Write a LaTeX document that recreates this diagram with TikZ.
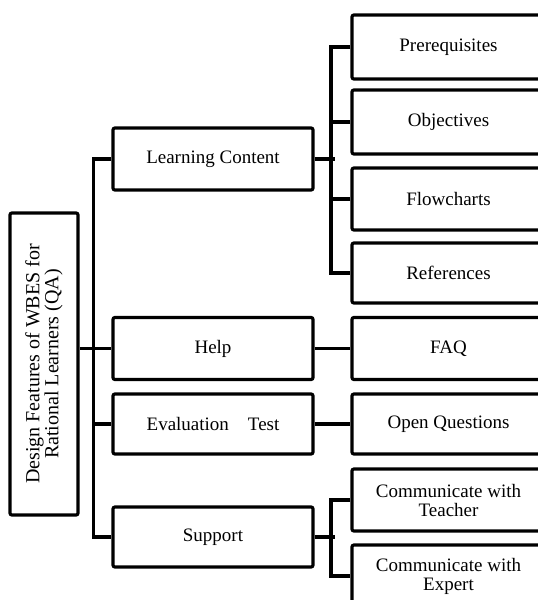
\documentclass[tikz,border=0pt]{standalone}
\usepackage{fontspec}
\setmainfont{Liberation Serif}
\begin{document}
\begin{tikzpicture}[x=1pt,y=-1pt,
  box/.style={draw, line width=3.2pt, rounded corners=2pt, minimum width=200pt,
    minimum height=62pt, inner sep=0pt, align=center,
    font=\fontsize{19}{19}\selectfont},
  leaf/.style={box, minimum width=193pt},
  link/.style={line width=3.2pt}]
\clip (0,0) rectangle (538,600);
% root, text running bottom to top
\node[box, rotate=90, minimum width=302pt, minimum height=68pt,
  font=\fontsize{20}{19}\selectfont] (root) at (44,364)
  {Design Features of WBES for\\Rational Learners (QA)};
% first level
\node[box] (lc)  at (213,159) {Learning Content};
\node[box] (help) at (213,348.5) {Help};
\node[box, minimum height=60pt] (eval) at (213,424) {Evaluation\quad Test};
\node[box, minimum height=60pt] (sup) at (213,537) {Support};
% second level
\node[leaf, minimum height=64pt] (pre)  at (448.5,47) {Prerequisites};
\node[leaf, minimum height=64pt] (obj)  at (448.5,122) {Objectives};
\node[leaf] (flow) at (448.5,199) {Flowcharts};
\node[leaf, minimum height=60pt] (refs) at (448.5,273) {References};
\node[leaf] (faq)  at (448.5,348.5) {FAQ};
\node[leaf, minimum height=60pt] (oq) at (448.5,424) {Open Questions};
\node[leaf] (tea)  at (448.5,500) {Communicate with\\Teacher};
\node[leaf] (exp)  at (448.5,576) {Communicate with\\Expert};
% root and main trunk
\draw[link] (root.south |- help.west) -- (help.west);
\draw[link] (lc.west) -- ++(-18,0) |- (sup.west);
\draw[link] (eval.west) -- ++(-18,0);
% learning content branches
\draw[link] (lc.east) -- ++(20,0);
\draw[link] (pre.west) -- ++(-19.5,0) |- (refs.west);
\draw[link] (obj.west) -- ++(-19.5,0);
\draw[link] (flow.west) -- ++(-19.5,0);
% single children
\draw[link] (help) -- (faq);
\draw[link] (eval) -- (oq);
% support branches
\draw[link] (sup.east) -- ++(20,0);
\draw[link] (tea.west) -- ++(-19.5,0) |- (exp.west);
\end{tikzpicture}
\end{document}
